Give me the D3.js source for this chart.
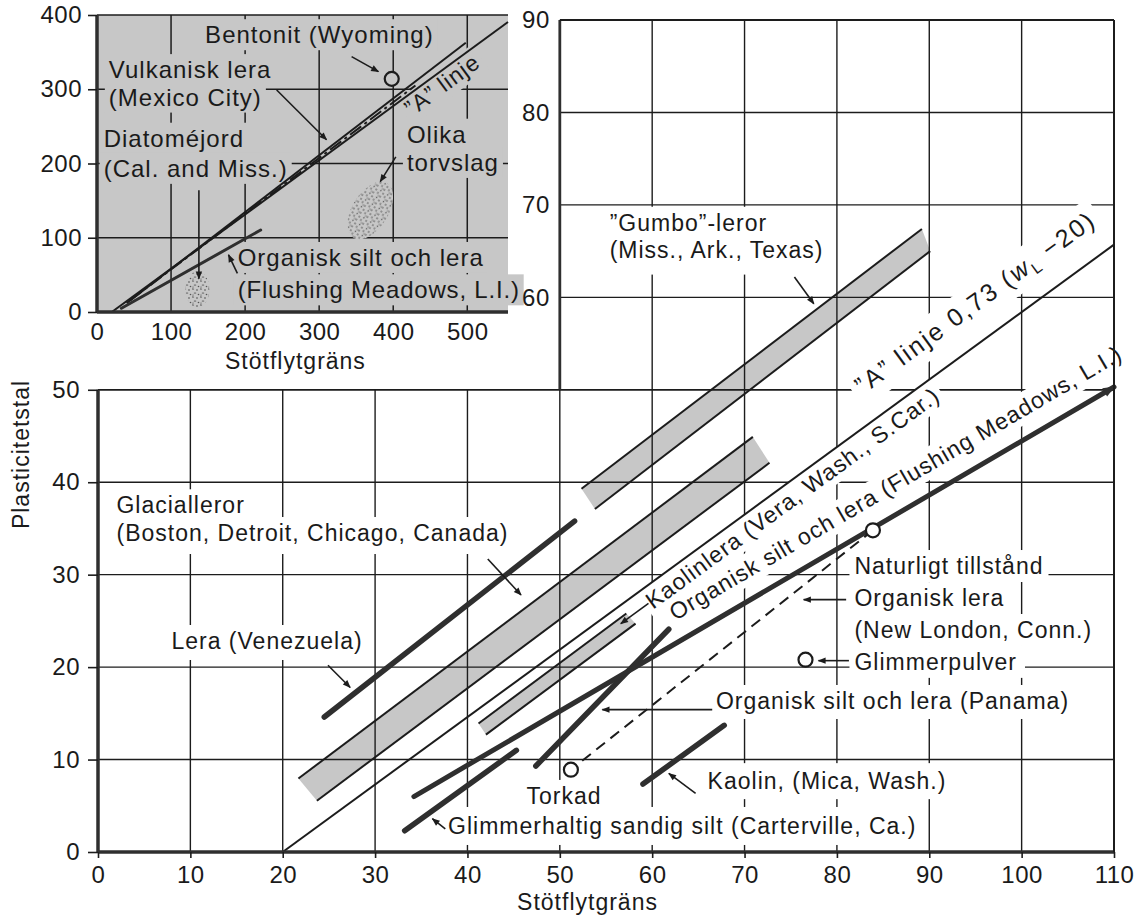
<!DOCTYPE html>
<html>
<head>
<meta charset="utf-8">
<script src="https://cdn.jsdelivr.net/npm/d3@7"></script>
<style>
  body { margin: 0; background: #fff; }
  text { font-family: "Liberation Sans", Arial, Helvetica, sans-serif; fill: #1a1a1a; }
</style>
</head>
<body>
<svg id="chart" width="1139" height="917"></svg>
<script>
// ---------- axes ----------
const xTickValues = [0, 10, 20, 30, 40, 50, 60, 70, 80, 90, 100, 110];
const yTicksLower = [0, 10, 20, 30, 40, 50];
const yTicksUpper = [60, 70, 80, 90];
const insetXTicks = [0, 100, 200, 300, 400, 500];
const insetYTicks = [0, 100, 200, 300, 400];

// ---------- main chart (liquid limit, plasticity index) ----------
const aLine = [[20, 0], [110, 65.7]];                 // PI = 0.73 (wL - 20)
const gumboUpper = [[52.35, 39.3], [89.2, 67.4]];
const gumboLower = [[53.8, 37.1], [90.1, 65.0]];
const glacialUpper = [[21.7, 7.95], [70.9, 44.9]];
const glacialLower = [[23.7, 5.55], [72.7, 42.1]];
const kaolinleraUpper = [[41.2, 13.9], [57.2, 25.8]];
const kaolinleraLower = [[42.0, 12.7], [58.2, 24.7]];
const leraVenezuela = [[24.5, 14.6], [51.6, 35.8]];
const flushingMain = [[34.2, 6.0], [110, 50.3]];
const panamaLine = [[47.4, 9.3], [61.8, 24.1]];
const kaolinMica = [[59.0, 7.35], [67.8, 13.7]];
const glimmerhaltig = [[33.2, 2.3], [45.3, 11.0]];
const newLondon = [[83.9, 34.8], [51.2, 8.9]];        // natural state, oven dried
const glimmerpulver = [[76.6, 20.8]];

// ---------- inset (wide range) ----------
const insetALine = [[20, 0], [555, 390.5]];
const vulkanisk = [[40, 12], [498, 362.7]];
const diatom = [[45, 16], [430, 305]];
const flushingInset = [[33, 5], [221, 110.4]];
const bentonit = [[398, 314]];
const peatCenters = [[135.6, 30.3], [369, 136.7]];

// ---------- scales ----------
const x = d3.scaleLinear().domain([0, 110]).range([98, 1114]);
const y = d3.scaleLinear().domain([0, 90]).range([852, 20]);
const ix = d3.scaleLinear().domain([0, 555]).range([97, 508]);
const iy = d3.scaleLinear().domain([0, 400]).range([312, 15]);

const INK = "#1c1c1c", THICK = "#2f2f2f", GRAY = "#c7c7c7";

const svg = d3.select("#chart");
const defs = svg.append("defs");

function marker(id, w, h, col) {
  defs.append("marker").attr("id", id)
    .attr("viewBox", "0 0 10 10").attr("refX", 9).attr("refY", 5)
    .attr("markerWidth", w).attr("markerHeight", h)
    .attr("markerUnits", "userSpaceOnUse").attr("orient", "auto")
    .append("path").attr("d", "M0,1 L10,5 L0,9 Z").attr("fill", col);
}
marker("ah", 11, 8, INK);
marker("ahBig", 15, 12, THICK);

// stipple texture for peat areas
const pat = defs.append("pattern").attr("id", "stipple")
  .attr("width", 8).attr("height", 8).attr("patternUnits", "userSpaceOnUse");
pat.append("rect").attr("width", 8).attr("height", 8).attr("fill", GRAY);
[[1, 1, 1.2, 0.6], [5, 2, 0.9, 0.7], [3, 5, 1.3, 0.6], [6.5, 6.5, 0.8, 0.8], [1, 7, 0.7, 0.5]]
  .forEach(([cx, cy, rx, ry]) => pat.append("ellipse")
    .attr("cx", cx).attr("cy", cy).attr("rx", rx).attr("ry", ry).attr("fill", "#555"));

const gBand = svg.append("g");
const gGrid = svg.append("g");
const gKnock = svg.append("g");
const gMarks = svg.append("g");
const gInset = svg.append("g");
const gText = svg.append("g");

const lineMain = d3.line().x(d => x(d[0])).y(d => y(d[1]));
const lineInset = d3.line().x(d => ix(d[0])).y(d => iy(d[1]));

function angleDeg(sx, sy, seg) {
  return Math.atan2(sy(seg[1][1]) - sy(seg[0][1]), sx(seg[1][0]) - sx(seg[0][0])) * 180 / Math.PI;
}

// text with a knock-out block behind it that breaks the grid lines
function label(textLayer, knockLayer, content, px, py, o = {}) {
  const tr = `translate(${px},${py})` + (o.rot ? ` rotate(${o.rot})` : "");
  const t = textLayer.append("text").attr("transform", tr)
    .attr("text-anchor", o.anchor || "start")
    .attr("font-size", o.size || 23)
    .attr("letter-spacing", o.ls ?? 1);
  if (typeof content === "function") content(t); else t.text(content);
  const b = t.node().getBBox();
  const p = o.pad || [3, 5, 3, 5];
  knockLayer.append("rect").attr("transform", tr)
    .attr("x", b.x - p[3]).attr("y", b.y - p[0])
    .attr("width", b.width + p[1] + p[3]).attr("height", b.height + p[0] + p[2])
    .attr("fill", o.knock || "#fff");
  return t;
}

// ---------- main: shaded bands ----------
[[gumboUpper, gumboLower], [glacialUpper, glacialLower], [kaolinleraUpper, kaolinleraLower]]
  .forEach(([u, l]) => {
    gBand.append("path")
      .attr("d", lineMain([u[0], u[1], l[1], l[0]]) + "Z")
      .attr("fill", GRAY);
  });

// ---------- main: grid ----------
const gridStroke = 1.4;
yTicksLower.filter(v => v > 0 && v < 50).forEach(v =>
  gGrid.append("line").attr("x1", x(0)).attr("x2", x(110)).attr("y1", y(v)).attr("y2", y(v))
    .attr("stroke", INK).attr("stroke-width", gridStroke));
gGrid.append("line").attr("x1", x(0)).attr("x2", x(110)).attr("y1", y(50)).attr("y2", y(50))
  .attr("stroke", INK).attr("stroke-width", 1.8);
yTicksUpper.filter(v => v < 90).forEach(v =>
  gGrid.append("line").attr("x1", x(50)).attr("x2", x(110)).attr("y1", y(v)).attr("y2", y(v))
    .attr("stroke", INK).attr("stroke-width", gridStroke));
xTickValues.filter(v => v > 0 && v < 110).forEach(v =>
  gGrid.append("line").attr("x1", x(v)).attr("x2", x(v)).attr("y1", y(0)).attr("y2", y(v < 50 ? 50 : 90))
    .attr("stroke", INK).attr("stroke-width", gridStroke));

// frame
const frame = svg.append("g");
frame.append("line").attr("x1", x(0)).attr("x2", x(110)).attr("y1", y(0)).attr("y2", y(0))
  .attr("stroke", THICK).attr("stroke-width", 3.5);
frame.append("line").attr("x1", x(0)).attr("x2", x(0)).attr("y1", y(0)).attr("y2", y(50))
  .attr("stroke", THICK).attr("stroke-width", 3.5);
frame.append("line").attr("x1", x(50)).attr("x2", x(50)).attr("y1", y(50)).attr("y2", y(90))
  .attr("stroke", THICK).attr("stroke-width", 2.8);
frame.append("line").attr("x1", x(50)).attr("x2", x(110)).attr("y1", y(90)).attr("y2", y(90))
  .attr("stroke", INK).attr("stroke-width", 2);
frame.append("line").attr("x1", x(110)).attr("x2", x(110)).attr("y1", y(0)).attr("y2", y(90))
  .attr("stroke", INK).attr("stroke-width", 2);

// axes
function styleAxis(g) {
  g.select(".domain").remove();
  g.selectAll(".tick line").attr("stroke", INK).attr("stroke-width", 1.6);
  g.selectAll(".tick text").attr("font-size", 24).attr("letter-spacing", 0.5)
    .attr("font-family", "Liberation Sans, Arial, sans-serif").attr("fill", "#1a1a1a");
}
svg.append("g").attr("transform", `translate(0,${y(0)})`)
  .call(d3.axisBottom(x).tickValues(xTickValues).tickSize(6).tickPadding(8).tickFormat(d3.format("d")))
  .call(styleAxis);
svg.append("g").attr("transform", `translate(${x(0)},0)`)
  .call(d3.axisLeft(y).tickValues(yTicksLower).tickSize(10).tickPadding(8).tickFormat(d3.format("d")))
  .call(styleAxis);
svg.append("g").attr("transform", `translate(${x(50)},0)`)
  .call(d3.axisLeft(y).tickValues(yTicksUpper).tickSize(0).tickPadding(10).tickFormat(d3.format("d")))
  .call(styleAxis);

gText.append("text").attr("x", x(53)).attr("y", 910).attr("text-anchor", "middle")
  .attr("font-size", 23).attr("letter-spacing", 1).text("Stötflytgräns");
gText.append("text").attr("transform", `translate(29,${y(43)}) rotate(-90)`).attr("text-anchor", "middle")
  .attr("font-size", 23).attr("letter-spacing", 1).text("Plasticitetstal");

// ---------- main: labels ----------
const L = (s, ux, uy, o) => label(gText, gKnock, s, x(ux), y(uy), o);
L("”Gumbo”-leror", 55.4, 67.2, { pad: [3, 5, 3, 5] });
L("(Miss., Ark., Texas)", 55.4, 64.3, { pad: [3, 5, 12, 5] });
L("Glacialleror", 2.0, 36.64);
L("(Boston, Detroit, Chicago, Canada)", 2.0, 33.64, { pad: [3, 5, 8, 5] });
L("Lera (Venezuela)", 7.95, 21.96, { pad: [3, 5, 6, 5] });
L("Naturligt tillstånd", 81.9, 30.07);
L("Organisk lera", 81.9, 26.6);
L("(New London, Conn.)", 81.9, 23.15);
L("Glimmerpulver", 81.9, 19.7, { pad: [3, 8, 3, 5] });
L("Organisk silt och lera (Panama)", 66.9, 15.47, { pad: [3, 5, 5, 5] });
L("Kaolin, (Mica, Wash.)", 66.0, 6.8, { pad: [5, 6, 5, 6] });
L("Torkad", 46.4, 5.2, { pad: [3, 5, 4, 5] });
L("Glimmerhaltig sandig silt (Carterville, Ca.)", 37.9, 1.95, { pad: [6, 5, 6, 5] });

const aAng = angleDeg(x, y, aLine);
L("Kaolinlera (Vera, Wash., S.Car.)", 60.1, 26.2, { rot: aAng, pad: [2, 4, 2, 4] });
L("Organisk silt och lera (Flushing Meadows, L.I.)", 62.5, 25.0,
  { rot: angleDeg(x, y, flushingMain), pad: [2, 4, 2, 4] });
L(t => {
  t.append("tspan").text("”A” linje 0,73 (");
  t.append("tspan").attr("font-style", "italic").text("w");
  t.append("tspan").attr("font-size", 16).attr("dy", 5).text("L");
  t.append("tspan").attr("dy", -5).text(" −20)");
}, 82.8, 49.4, { rot: aAng, size: 25, ls: 2.2, pad: [4, 6, 4, 6] });

// ---------- main: marks ----------
// A-line and band edges (thin)
[aLine, gumboUpper, gumboLower, glacialUpper, glacialLower, kaolinleraUpper, kaolinleraLower]
  .forEach(seg => gMarks.append("path").attr("d", lineMain(seg))
    .attr("fill", "none").attr("stroke", INK).attr("stroke-width", 2));

// thick soil lines
[leraVenezuela, panamaLine, kaolinMica, glimmerhaltig].forEach(seg =>
  gMarks.append("path").attr("d", lineMain(seg)).attr("fill", "none")
    .attr("stroke", THICK).attr("stroke-width", 5.5).attr("stroke-linecap", "round"));
gMarks.append("path").attr("d", lineMain(flushingMain)).attr("fill", "none")
  .attr("stroke", THICK).attr("stroke-width", 5).attr("stroke-linecap", "round")
  .attr("marker-end", "url(#ahBig)");

// New London: natural state to oven dried
gMarks.append("path").attr("d", lineMain(newLondon)).attr("fill", "none")
  .attr("stroke", INK).attr("stroke-width", 2).attr("stroke-dasharray", "11 7");

// annotation arrows
const mainArrows = [
  [[75.4, 62.2], [77.5, 59.3]],
  [[42.2, 31.7], [45.8, 27.8]],
  [[24.9, 20.2], [27.3, 17.8]],
  [[59.6, 26.9], [56.6, 24.7]],
  [[81.0, 27.3], [76.4, 27.3]],
  [[81.3, 20.7], [78.0, 20.7]],
  [[66.5, 15.4], [54.6, 15.4]],
  [[64.7, 6.35], [61.8, 8.5]],
  [[37.6, 2.5], [36.2, 3.6]]
];
mainArrows.forEach(seg => gMarks.append("path").attr("d", lineMain(seg))
  .attr("fill", "none").attr("stroke", INK).attr("stroke-width", 1.6).attr("marker-end", "url(#ah)"));

gMarks.selectAll("circle.pt").data(newLondon.concat(glimmerpulver)).join("circle")
  .attr("class", "pt").attr("cx", d => x(d[0])).attr("cy", d => y(d[1])).attr("r", 7)
  .attr("fill", "#fff").attr("stroke", INK).attr("stroke-width", 2.2);

// ---------- inset ----------
const gIBg = gInset.append("g"), gIGrid = gInset.append("g"), gIKnock = gInset.append("g"),
      gIMarks = gInset.append("g"), gIText = gInset.append("g");

gIBg.append("rect").attr("x", ix(0)).attr("y", iy(400)).attr("width", ix(555) - ix(0))
  .attr("height", iy(0) - iy(400)).attr("fill", GRAY);

insetYTicks.filter(v => v > 0).forEach(v =>
  gIGrid.append("line").attr("x1", ix(0)).attr("x2", ix(555)).attr("y1", iy(v)).attr("y2", iy(v))
    .attr("stroke", INK).attr("stroke-width", 1.5));
insetXTicks.filter(v => v > 0).forEach(v =>
  gIGrid.append("line").attr("x1", ix(v)).attr("x2", ix(v)).attr("y1", iy(0)).attr("y2", iy(400))
    .attr("stroke", INK).attr("stroke-width", 1.5));

gInset.append("line").attr("x1", ix(0)).attr("x2", ix(555)).attr("y1", iy(0)).attr("y2", iy(0))
  .attr("stroke", THICK).attr("stroke-width", 3.5);
gInset.append("line").attr("x1", ix(0)).attr("x2", ix(0)).attr("y1", iy(0)).attr("y2", iy(400))
  .attr("stroke", THICK).attr("stroke-width", 3.5);

gInset.append("g").attr("transform", `translate(${ix(0)},0)`)
  .call(d3.axisLeft(iy).tickValues(insetYTicks).tickSize(9).tickPadding(6).tickFormat(d3.format("d")))
  .call(styleAxis);
gInset.append("g").attr("transform", `translate(0,${iy(0)})`)
  .call(d3.axisBottom(ix).tickValues(insetXTicks).tickSize(0).tickPadding(11).tickFormat(d3.format("d")))
  .call(styleAxis);
gIText.append("text").attr("x", ix(268)).attr("y", 369).attr("text-anchor", "middle")
  .attr("font-size", 23).attr("letter-spacing", 1).text("Stötflytgräns");

const IL = (s, ux, uy, o = {}) => label(gIText, gIKnock, s, ix(ux), iy(uy),
  Object.assign({ knock: GRAY, size: 24, pad: [2, 4, 2, 4] }, o));
IL("Bentonit  (Wyoming)", 146, 362);
IL("Vulkanisk lera", 16, 315);
IL("(Mexico City)", 16, 278);
IL("Diatoméjord", 9, 222.6);
IL("(Cal. and Miss.)", 9, 182);
IL("Olika", 418.5, 228);
IL("torvslag", 418.5, 190);
IL("Organisk silt och lera", 190, 62);
IL("(Flushing Meadows, L.I.)", 190, 18.4, { ls: 0.8 });
IL("”A” linje", 425, 262.6, { rot: angleDeg(ix, iy, insetALine), size: 23 });

// peat areas
gIMarks.append("ellipse").attr("cx", ix(peatCenters[0][0])).attr("cy", iy(peatCenters[0][1]))
  .attr("rx", 12).attr("ry", 18).attr("fill", "url(#stipple)");
gIMarks.append("ellipse")
  .attr("transform", `translate(${ix(peatCenters[1][0])},${iy(peatCenters[1][1])}) rotate(-58)`)
  .attr("rx", 32).attr("ry", 18).attr("fill", "url(#stipple)");

[insetALine, vulkanisk].forEach(seg => gIMarks.append("path").attr("d", lineInset(seg))
  .attr("fill", "none").attr("stroke", INK).attr("stroke-width", 2));
gIMarks.append("path").attr("d", lineInset(diatom)).attr("fill", "none")
  .attr("stroke", INK).attr("stroke-width", 2).attr("stroke-dasharray", "14 4 3 4");
gIMarks.append("path").attr("d", lineInset(flushingInset)).attr("fill", "none")
  .attr("stroke", THICK).attr("stroke-width", 3).attr("stroke-linecap", "round");

const insetArrows = [
  [[343.8, 344], [380, 323.7]],
  [[242.6, 299], [310, 232]],
  [[403.5, 209], [382.5, 175.5]],
  [[189.6, 52], [177.6, 77]],
  [[137.6, 164], [137.6, 45]]
];
insetArrows.forEach(seg => gIMarks.append("path").attr("d", lineInset(seg))
  .attr("fill", "none").attr("stroke", INK).attr("stroke-width", 1.6).attr("marker-end", "url(#ah)"));

gIMarks.selectAll("circle").data(bentonit).join("circle")
  .attr("cx", d => ix(d[0])).attr("cy", d => iy(d[1])).attr("r", 7)
  .attr("fill", GRAY).attr("stroke", INK).attr("stroke-width", 2.2);
</script>
</body>
</html>
